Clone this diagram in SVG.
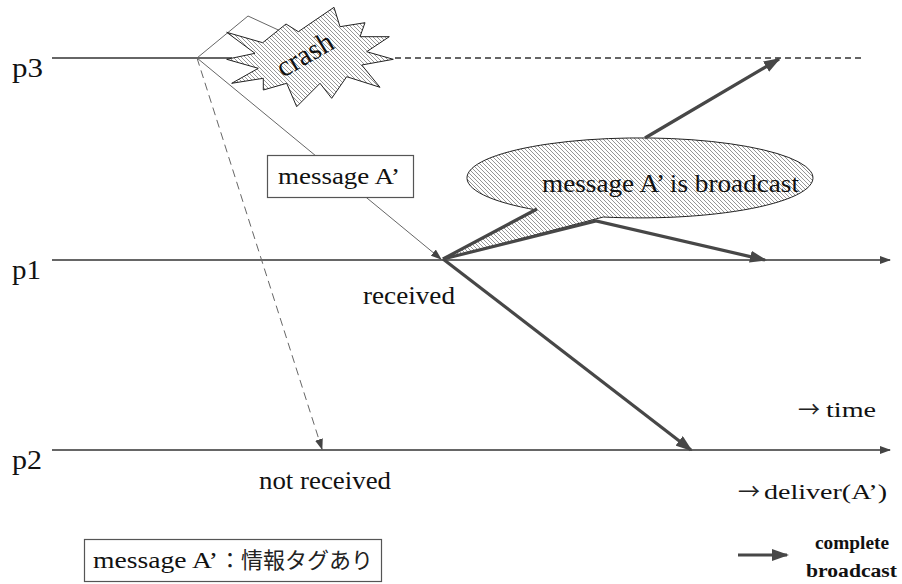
<svg xmlns="http://www.w3.org/2000/svg" width="902" height="584" viewBox="0 0 902 584">
  <style>
    .lbl { font-family: "Liberation Serif", "Times New Roman", serif; fill: #111; }
    .cjk { font-family: "Noto Sans CJK JP", "Noto Sans CJK SC", sans-serif; fill: #222; }
    .axis { stroke: #333; stroke-width: 1.5; fill: none; }
    .thick { stroke: #474747; stroke-width: 3.2; fill: none; }
    .thin { stroke: #666; stroke-width: 1; fill: none; }
    .box { fill: #fff; stroke: #555; stroke-width: 1.2; }
    .hatched { fill: url(#hatch); stroke: #222; stroke-width: 1; }
  </style>
  <defs>
    <pattern id="hatch" patternUnits="userSpaceOnUse" width="4" height="4">
      <rect width="4" height="4" fill="#fff"/>
      <path d="M-1,-1 L5,5 M-1,3 L1,5 M3,-1 L5,1" stroke="#8a8a8a" stroke-width="0.9"/>
    </pattern>
    <marker id="big" viewBox="0 0 17 12" refX="15" refY="6" markerWidth="17" markerHeight="12" markerUnits="userSpaceOnUse" orient="auto">
      <path d="M0,0 L17,6 L0,12 Z" fill="#474747"/>
    </marker>
    <marker id="small" viewBox="0 0 11 8" refX="10" refY="4" markerWidth="11" markerHeight="8" markerUnits="userSpaceOnUse" orient="auto">
      <path d="M0,0 L11,4 L0,8 Z" fill="#444"/>
    </marker>
  </defs>

  <rect width="902" height="584" fill="#fff"/>

  <!-- process time lines -->
  <g id="p3">
    <line class="axis" x1="52" y1="58" x2="232" y2="58"/>
    <line class="axis" x1="395" y1="58" x2="862" y2="58" stroke-dasharray="6,4"/>
    <text class="lbl" x="12" y="77" font-size="27" textLength="31" lengthAdjust="spacingAndGlyphs">p3</text>
  </g>
  <g id="p1">
    <line class="axis" x1="52" y1="260" x2="890" y2="260" marker-end="url(#small)"/>
    <text class="lbl" x="12" y="279" font-size="27" textLength="29" lengthAdjust="spacingAndGlyphs">p1</text>
  </g>
  <g id="p2">
    <line class="axis" x1="52" y1="450" x2="890" y2="450" marker-end="url(#small)"/>
    <text class="lbl" x="12" y="469" font-size="27" textLength="30" lengthAdjust="spacingAndGlyphs">p2</text>
  </g>

  <!-- crash burst on p3 -->
  <g id="crash">
    <polyline class="thin" points="197,58 248,16 300,40" stroke="#333"/>
    <polygon class="hatched" points="226.7,32.3 262.7,42.7 286,24 298.3,31.7 334,7.3 340,26.7 365,22.7 360,36.7 389.3,36.7 366.7,51.7 393.3,59.3 361.7,65 380,87.3 346.7,76.7 331.7,98.3 320,83.3 296.7,106.7 286.7,83.3 263.3,90 263.3,78.3 231.7,83.3 258.3,68.3 226.7,59.3 255,53.3"/>
    <text class="lbl" x="305" y="64" font-size="29" text-anchor="middle" transform="rotate(-30 305 55)">crash</text>
  </g>

  <!-- callout: message A' is broadcast -->
  <g id="broadcast-callout">
    <path class="hatched" d="M536.7,210 L443,259 L603.3,217 A173,40 0 1 0 536.7,210 Z"/>
    <text class="lbl" x="542" y="192" font-size="25" textLength="257" lengthAdjust="spacingAndGlyphs">message A’ is broadcast</text>
  </g>

  <!-- connectors -->
  <g id="connectors">
    <line class="thin" x1="197" y1="58" x2="441" y2="259" marker-end="url(#small)"/>
    <line class="thin" x1="197" y1="58" x2="322" y2="449" stroke-dasharray="8,5" marker-end="url(#small)"/>
    <path class="thick" d="M443,259 L537,209 M645,138 L779,59" marker-end="url(#big)"/>
    <polyline class="thick" points="443,259 596,221 765,260" marker-end="url(#big)"/>
    <line class="thick" x1="443" y1="259" x2="691" y2="450" marker-end="url(#big)"/>
  </g>

  <!-- message label box -->
  <g id="message-box">
    <rect class="box" x="267.5" y="155.5" width="146" height="42"/>
    <text class="lbl" x="278" y="184" font-size="24" textLength="122" lengthAdjust="spacingAndGlyphs">message A’</text>
  </g>

  <g id="labels">
    <text class="lbl" x="363" y="304" font-size="25" textLength="92" lengthAdjust="spacingAndGlyphs">received</text>
    <text class="lbl" x="259" y="489" font-size="25" textLength="132" lengthAdjust="spacingAndGlyphs">not received</text>
    <text x="798" y="417" font-size="22"><tspan class="cjk">→</tspan><tspan class="lbl" x="826" textLength="50" lengthAdjust="spacingAndGlyphs">time</tspan></text>
    <text x="738" y="499" font-size="22"><tspan class="cjk">→</tspan><tspan class="lbl" x="764" textLength="123" lengthAdjust="spacingAndGlyphs">deliver(A’)</tspan></text>
  </g>

  <!-- legend -->
  <g id="legend-broadcast">
    <line class="thick" x1="738" y1="555" x2="787" y2="555" marker-end="url(#big)"/>
    <text class="lbl" x="815" y="549" font-size="18" font-weight="bold" textLength="74" lengthAdjust="spacingAndGlyphs">complete</text>
    <text class="lbl" x="806" y="577" font-size="18" font-weight="bold" textLength="91" lengthAdjust="spacingAndGlyphs">broadcast</text>
  </g>
  <g id="legend-tag">
    <rect class="box" x="84.5" y="539.5" width="297" height="42"/>
    <text class="lbl" x="93" y="568" font-size="24" textLength="125" lengthAdjust="spacingAndGlyphs">message A’</text>
    <text class="cjk" x="219" y="568" font-size="22">：情報タグあり</text>
  </g>
</svg>
